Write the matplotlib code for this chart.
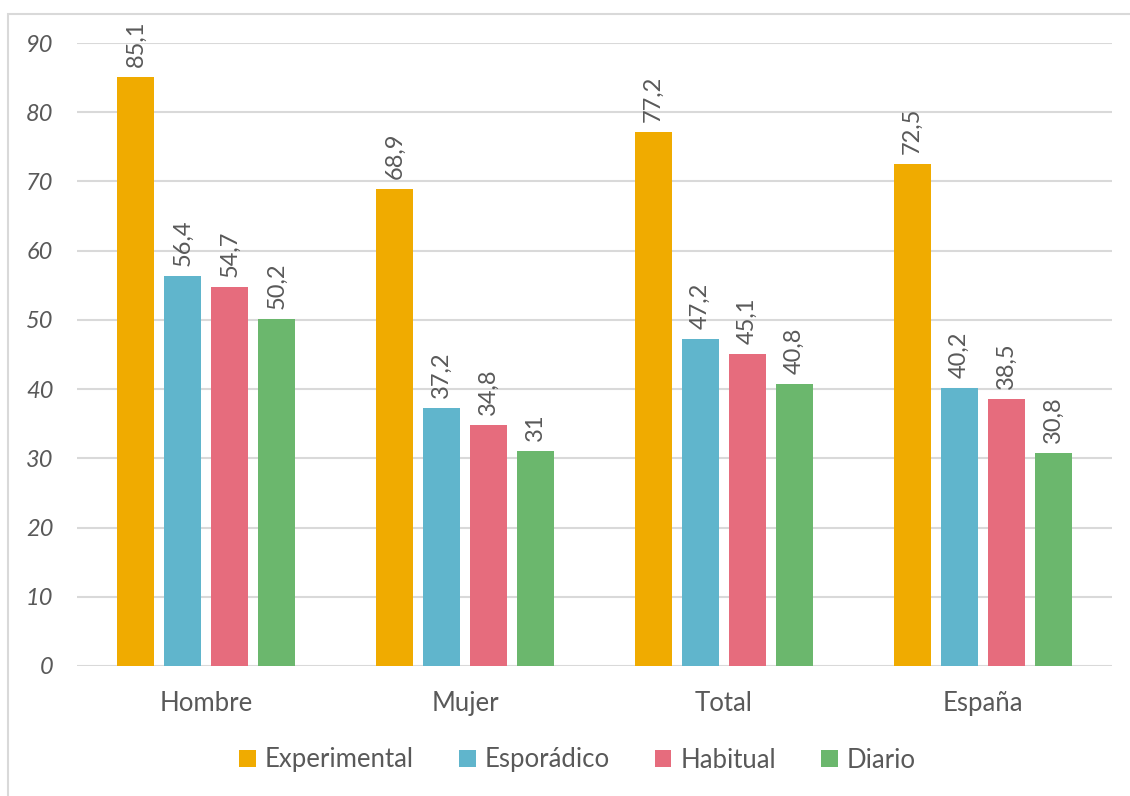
import numpy as np
import matplotlib
matplotlib.use("Agg")
import matplotlib.pyplot as plt
from matplotlib.patches import Rectangle

# datos
grupos = ["Hombre", "Mujer", "Total", "España"]
series = ["Experimental", "Esporádico", "Habitual", "Diario"]
experimental = [85.1, 68.9, 77.2, 72.5]
esporadico = [56.4, 37.2, 47.2, 40.2]
habitual = [54.7, 34.8, 45.1, 38.5]
diario = [50.2, 31.0, 40.8, 30.8]
yticks = [0, 10, 20, 30, 40, 50, 60, 70, 80, 90]

colores = ["#F0AB00", "#60B5CC", "#E66C7D", "#6BB76D"]
gris = "#595959"
plt.rcParams['font.family'] = ['Lato', 'DejaVu Sans']

fig = plt.figure(figsize=(11.3, 7.96), dpi=100)
ax = fig.add_axes([77/1130, 1-666/796, (1112-77)/1130, (666-43)/796])

x = np.arange(len(grupos))
ancho = 0.143
paso = 0.1816
valores = [experimental, esporadico, habitual, diario]
for i, (vals, nombre, c) in enumerate(zip(valores, series, colores)):
    pos = x + (i - 1.5) * paso
    ax.bar(pos, vals, width=ancho, color=c, label=nombre, zorder=3)
    for p, v in zip(pos, vals):
        etiqueta = ("%g" % v).replace(".", ",")
        ax.annotate(etiqueta, (p, v), xytext=(0, 10), textcoords="offset pixels",
                    rotation=90, ha="center", va="bottom", fontsize=17, color=gris)

ax.set_xlim(-0.5, 3.5)
ax.set_ylim(0, 90)
ax.set_yticks(yticks)
ax.set_yticklabels([str(t) for t in yticks], fontstyle="italic", fontsize=17, color=gris)
ax.set_xticks(x)
ax.set_xticklabels(grupos, fontsize=18.5, color=gris)
ax.tick_params(axis="both", length=0)
ax.tick_params(axis="y", pad=17)
ax.tick_params(axis="x", pad=18)
ax.grid(axis="y", color="#D9D9D9", linewidth=1.5, zorder=0)
for s in ax.spines.values():
    s.set_visible(False)

fig.legend(loc="center", bbox_to_anchor=(0.511, 1-760/796), ncol=4, frameon=False,
           fontsize=18.5, labelcolor=gris, handlelength=0.65, handleheight=0.65,
           handletextpad=0.35, columnspacing=1.75)

# marco del grafico
fig.patches.append(Rectangle((8/1130, -0.1), 1.2, 1.1 - 14/796, transform=fig.transFigure,
                             fill=False, edgecolor="#D9D9D9", linewidth=1.5))

fig.savefig("out.png", dpi=100)
